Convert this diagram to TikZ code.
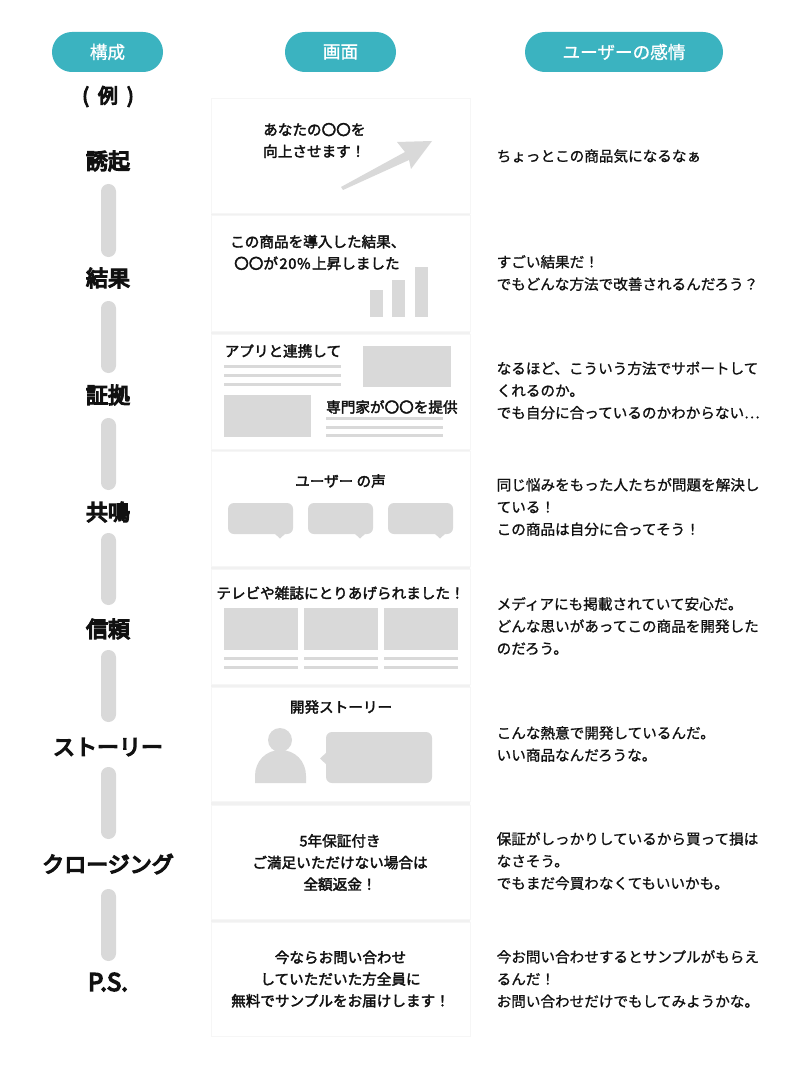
\documentclass[tikz,border=0pt]{standalone}
\usepackage{fontspec}
\setmainfont{Noto Sans CJK JP}
\newfontfamily\medf[FakeBold=2.4]{Noto Sans CJK JP}
\newfontfamily\regf[FakeBold=1.0]{Noto Sans CJK JP}
\newfontfamily\stagef[FakeBold=6]{Noto Sans CJK JP}
\definecolor{teal1}{HTML}{3BB3C0}
\definecolor{ph}{HTML}{D9D9D9}
\definecolor{fr}{HTML}{F6F6F6}
\definecolor{gapc}{HTML}{F1F1F1}
\definecolor{ink}{HTML}{111111}
\tikzset{
 x=1pt,y=-1pt,
 headpill/.style={fill=teal1,rounded corners=19.9pt,minimum height=40pt,inner sep=0pt,text=white,font=\regf\fontsize{17.6}{20}\selectfont},
 stage/.style={inner sep=0pt,text=ink,font=\stagef\fontsize{22}{24}\selectfont},
 framebox/.style={draw=fr,line width=1pt,fill=white},
 title/.style={inner sep=0pt,text=ink,align=center,font=\medf\fontsize{14.6}{21.7}\selectfont},
 feel/.style={inner sep=0pt,text=ink,anchor=west,align=left,font=\regf\fontsize{14.6}{22.2}\selectfont},
 phshape/.style={fill=ph,draw=none},
 linkbar/.style={fill=ph,draw=none,rounded corners=7.4pt},
}
\begin{document}
\begin{tikzpicture}
\useasboundingbox (0,0) rectangle (800,1075);
\fill[white] (0,0) rectangle (800,1075);
% headers
\node[headpill,minimum width=111pt] (h1) at (107.5,52) {構成};
\node[headpill,minimum width=111pt] (h2) at (340.5,52) {画面};
\node[headpill,minimum width=198pt] (h3) at (624,52) {ユーザーの感情};
\node[stage,font=\stagef\fontsize{20}{22}\selectfont] (ex) at (108,96.5) {(\kern9pt 例\kern9pt )};
% stages
\foreach \n/\y/\t in {s1/161/誘起,s2/278/結果,s3/395/証拠,s4/512/共鳴,s5/629/信頼,s6/747/ストーリー,s7/864/クロージング}
 \node[stage] (\n) at (108,\y) {\t};
\node[stage,font=\stagef\fontsize{24}{26}\selectfont] (s8) at (108,982) {P.S.};
% links between stages
\foreach \a/\b in {184/257,301/373,418/490,533/605,650/722,767/839,889/961}
 \fill[linkbar] (101,\a) rectangle (116,\b);
% frames
\fill[gapc] (211,214) rectangle (470,216) (211,331) rectangle (470,334) (211,449) rectangle (470,451) (211,566) rectangle (470,569) (211,684) rectangle (470,687) (211,801) rectangle (470,805) (211,919) rectangle (470,922);
\foreach \a/\b in {99/214,216/331,334/449,451/566,569/684,687/801,805/919,922/1036}
 \draw[framebox] (211,\a) rectangle (470,\b);
% frame 1
\node[title,align=left,anchor=west] (t1) at (263,140.5) {あなたの〇〇を\\向上させます！};
\fill[phshape] (341,187) -- (405,152) -- (397,142) -- (432,141) -- (411,169) -- (409,160) -- (343,190) -- cycle;
% frame 2
\node[title,align=left,anchor=west] (t2) at (230,252.5) {この商品を導入した結果、\\\kern4pt 〇〇が\kern1.5pt 2\kern.7pt 0\kern.7pt \%\kern1.5pt 上昇しました};
\fill[phshape] (370,290) rectangle (383,317);
\fill[phshape] (392,280) rectangle (405,317);
\fill[phshape] (415,267) rectangle (428,317);
% frame 3
\node[title,anchor=west] (t3a) at (224.5,351) {アプリと連携して};
\foreach \y in {365,374,383} \fill[phshape] (224,\y) rectangle (341,\y+3);
\fill[phshape] (363,346) rectangle (451,387);
\fill[phshape] (224,395) rectangle (311,437);
\node[title,anchor=west] (t3b) at (326,407) {専門家が〇〇を提供};
\foreach \y in {417,426,434} \fill[phshape] (326,\y) rectangle (443,\y+3);
% frame 4
\node[title] (t4) at (340.5,481) {ユーザー の声};
\foreach \x in {228,308,388} {
 \fill[phshape,rounded corners=6pt] (\x,503) rectangle (\x+65,534);
 \fill[phshape] (\x+46,533) -- (\x+52,538.5) -- (\x+58,533) -- cycle;
}
% frame 5
\node[title] (t5) at (340.5,593) {テレビや雑誌にとりあげられました！};
\foreach \x in {224,304,384} {
 \fill[phshape] (\x,608) rectangle (\x+74,650);
 \fill[phshape] (\x,657) rectangle (\x+74,660);
 \fill[phshape] (\x,666) rectangle (\x+74,669);
}
% frame 6
\node[title] (t6) at (341,707) {開発ストーリー};
\fill[phshape] (280,740) circle (12pt);
\fill[phshape] (255,783) -- (255,776) .. controls (255,761) and (266,750) .. (280.5,750) .. controls (295,750) and (306,761) .. (306,776) -- (306,783) -- cycle;
\fill[phshape,rounded corners=6pt] (326,732) rectangle (432,783);
\fill[phshape] (327,752) -- (320,758.5) -- (327,765) -- cycle;
% frame 7
\node[title] (t7) at (340,862.5) {5年保証付き\\ご満足いただけない場合は\\全額返金！};
% frame 8
\node[title] (t8) at (340.5,979) {今ならお問い合わせ\\していただいた方全員に\\無料でサンプルをお届けします！};
% feelings
\node[feel] (f1) at (496.5,156) {ちょっとこの商品気になるなぁ};
\node[feel] (f2) at (496.5,273) {すごい結果だ！\\でもどんな方法で改善されるんだろう？};
\node[feel] (f3) at (496.5,390.5) {なるほど、こういう方法でサポートして\\くれるのか。\\でも自分に合っているのかわからない⋯};
\node[feel] (f4) at (496.5,507) {同じ悩みをもった人たちが問題を解決し\\ている！\\この商品は自分に合ってそう！};
\node[feel] (f5) at (496.5,626) {メディアにも掲載されていて安心だ。\\どんな思いがあってこの商品を開発した\\のだろう。};
\node[feel] (f6) at (496.5,744) {こんな熱意で開発しているんだ。\\いい商品なんだろうな。};
\node[feel] (f7) at (496.5,861) {保証がしっかりしているから買って損は\\なさそう。\\でもまだ今買わなくてもいいかも。};
\node[feel] (f8) at (496.5,979) {今お問い合わせするとサンプルがもらえ\\るんだ！\\お問い合わせだけでもしてみようかな。};
\end{tikzpicture}
\end{document}
